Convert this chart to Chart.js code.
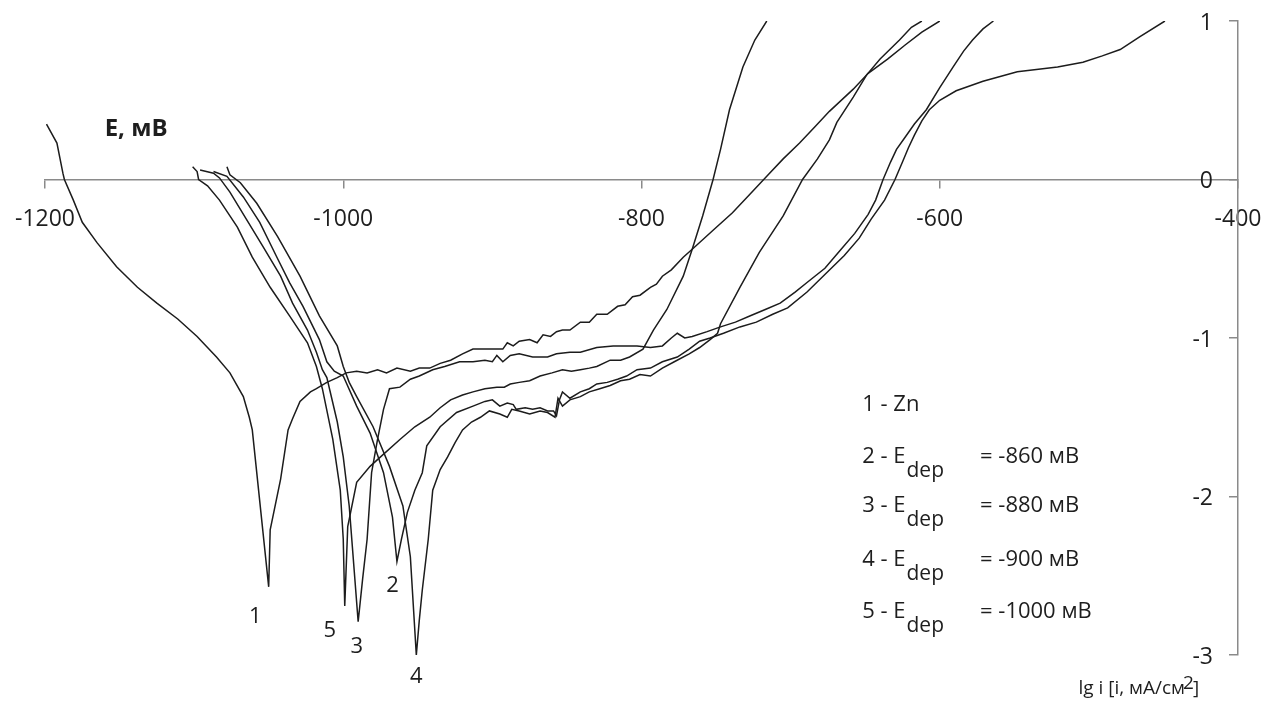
<!DOCTYPE html>
<html>
<head>
<meta charset="utf-8">
<script src="https://cdn.jsdelivr.net/npm/chart.js@4.4.1/dist/chart.umd.min.js"></script>
<style>
  html, body { margin: 0; padding: 0; background: #fff; }
  canvas { display: block; }
</style>
</head>
<body>
<canvas id="chart" width="1285" height="704"></canvas>
<script>
// potential E, mV (x) and lg i (y)
var zn_E = [-1199,-1192,-1188,-1187,-1181,-1175,-1165,-1152,-1138,-1125,-1111,-1098,-1085,-1076,-1067,-1063,-1061,-1050,
  -1049,-1042,-1037,-1034,-1029,-1022,-1018,-1011,-1004,-998,-991,-984,-977,-971,-964,-955,-949,-942,-935,
  -928,-920,-913,-902,-893,-890,-886,-882,-875,-870,-866,-861,-857,-853,-848,-841,-835,-830,-823,-816,
  -811,-806,-801,-794,-790,-786,-780,-772,-766,-752,-739,-727,-716,-705,-694,-684,-674,-658,-648,-635,
  -623,-612,-600];
var zn_lgi = [0.35,0.23,0.04,0,-0.13,-0.27,-0.40,-0.55,-0.68,-0.78,-0.88,-0.99,-1.12,-1.22,-1.37,-1.50,-1.58,-2.57,
  -2.21,-1.89,-1.58,-1.51,-1.40,-1.34,-1.32,-1.28,-1.25,-1.22,-1.21,-1.22,-1.20,-1.22,-1.19,-1.21,-1.19,-1.19,-1.16,
  -1.14,-1.10,-1.07,-1.07,-1.07,-1.03,-1.05,-1.02,-1.01,-1.03,-0.98,-0.99,-0.96,-0.95,-0.95,-0.90,-0.90,-0.85,-0.85,-0.80,
  -0.79,-0.74,-0.73,-0.68,-0.66,-0.61,-0.57,-0.49,-0.44,-0.32,-0.21,-0.09,0.02,0.13,0.23,0.33,0.43,0.57,0.67,0.76,
  0.85,0.93,1.0];

var d860_E = [-1087,-1078,-1067,-1056,-1044,-1036,-1027,-1016,-1011,-1006,-1000,-991,-982,-973,-967,-964,
  -961,-957,-952,-947,-944,-935,-924,-913,-905,-900,-895,-890,-886,-884,-878,-873,-868,-863,-859,-857,
  -855,-853,-848,-841,-835,-830,-823,-816,-810,-803,-794,-786,-776,-768,-761,-754,-745,-734,-723,-712,
  -702,-689,-676,-664,-654,-646,-637,-630,-625,-621,-617,-612,-607,-600,-589,-571,-548,-521,-504,-491,
  -479,-466,-449];
var d860_lgi = [0.05,0.02,-0.11,-0.27,-0.50,-0.65,-0.80,-1.01,-1.15,-1.21,-1.24,-1.43,-1.60,-1.85,-2.13,-2.41,
  -2.27,-2.10,-1.96,-1.85,-1.68,-1.56,-1.47,-1.43,-1.40,-1.39,-1.43,-1.41,-1.42,-1.45,-1.44,-1.45,-1.44,-1.46,-1.46,-1.49,
  -1.39,-1.34,-1.38,-1.34,-1.32,-1.29,-1.28,-1.26,-1.24,-1.20,-1.19,-1.15,-1.12,-1.07,-1.02,-1.00,-0.97,-0.93,-0.90,-0.85,
  -0.81,-0.71,-0.59,-0.48,-0.37,-0.25,-0.13,0,0.11,0.20,0.28,0.37,0.44,0.50,0.56,0.62,0.68,0.71,0.74,0.78,
  0.82,0.90,1.0];

var d880_E = [-1096,-1087,-1083,-1076,-1065,-1054,-1042,-1034,-1024,-1018,-1014,-1011,-1004,-1000,-996,-990,
  -987,-984,-981,-977,-973,-969,-962,-955,-949,-940,-932,-922,-913,-905,-900,-897,-893,-888,-882,-873,
  -863,-857,-848,-841,-830,-819,-811,-803,-794,-786,-780,-776,-771,-766,-756,-747,-737,-727,-717,-707,
  -697,-689,-677,-667,-657,-648,-643,-638,-633,-629,-623,-617,-609,-600,-591,-584,-578,-571,-564];
var d880_lgi = [0.06,0.04,0.01,-0.08,-0.25,-0.42,-0.61,-0.78,-0.95,-1.09,-1.20,-1.25,-1.53,-1.75,-2.06,-2.79,
  -2.52,-2.27,-1.85,-1.64,-1.45,-1.32,-1.31,-1.26,-1.24,-1.20,-1.18,-1.15,-1.15,-1.14,-1.15,-1.11,-1.15,-1.11,-1.10,-1.12,
  -1.12,-1.10,-1.09,-1.09,-1.06,-1.05,-1.05,-1.05,-1.06,-1.05,-1.00,-0.97,-1.00,-0.99,-0.96,-0.93,-0.90,-0.86,-0.82,-0.78,
  -0.71,-0.65,-0.56,-0.45,-0.34,-0.22,-0.13,0,0.11,0.19,0.27,0.35,0.44,0.58,0.71,0.81,0.88,0.95,1.0];

var d900_E = [-1078,-1076,-1069,-1058,-1044,-1029,-1016,-1004,-1000,-996,-991,-980,-969,-960,-955,-951,
  -949,-947,-943,-940,-935,-930,-925,-920,-914,-908,-902,-895,-890,-887,-882,-875,-868,-863,-858,-856,
  -853,-848,-841,-835,-828,-821,-814,-808,-801,-794,-786,-778,-768,-761,-754,-749,-747,-734,-721,-705,
  -692,-682,-674,-669,-658,-649,-640,-627,-619,-612];
var d900_lgi = [0.08,0.03,-0.02,-0.15,-0.36,-0.61,-0.86,-1.05,-1.18,-1.28,-1.37,-1.56,-1.81,-2.06,-2.38,-3.0,
  -2.78,-2.59,-2.27,-1.96,-1.83,-1.75,-1.66,-1.58,-1.53,-1.50,-1.46,-1.48,-1.50,-1.45,-1.46,-1.48,-1.46,-1.47,-1.50,-1.38,
  -1.43,-1.39,-1.37,-1.34,-1.32,-1.30,-1.27,-1.26,-1.23,-1.24,-1.19,-1.15,-1.10,-1.06,-1.01,-0.97,-0.91,-0.68,-0.46,-0.23,
  0,0.13,0.25,0.36,0.52,0.66,0.76,0.88,0.96,1.0];

var d1000_E = [-1101,-1098,-1097,-1091,-1083,-1071,-1061,-1049,-1036,-1024,-1018,-1014,-1007,-1002,-1000,-999,
  -997,-991,-982,-975,-962,-952,-942,-935,-928,-920,-913,-905,-897,-892,-888,-882,-875,-868,-860,-853,
  -847,-841,-835,-830,-821,-814,-808,-799,-792,-783,-772,-766,-759,-752,-747,-741,-732,-724,-716];
var d1000_lgi = [0.08,0.05,0,-0.04,-0.13,-0.30,-0.49,-0.68,-0.86,-1.03,-1.18,-1.32,-1.64,-1.96,-2.27,-2.69,
  -2.19,-1.91,-1.81,-1.75,-1.64,-1.56,-1.50,-1.44,-1.39,-1.36,-1.34,-1.32,-1.31,-1.31,-1.29,-1.28,-1.27,-1.24,-1.22,-1.20,
  -1.21,-1.20,-1.19,-1.18,-1.14,-1.14,-1.12,-1.07,-0.95,-0.82,-0.61,-0.44,-0.23,0,0.19,0.44,0.71,0.88,1.0];

var xTicks = [-1200, -1000, -800, -600, -400];
var yTicks = [-3, -2, -1, 0, 1];

var curveNames = ['1', '2', '3', '4', '5'];
var curveNamePos = [[-1059, -2.76], [-967, -2.56], [-991, -2.95], [-951, -3.14], [-1009, -2.85]];

var legendLeft = ['1 - Zn', '2 - E', '3 - E', '4 - E', '5 - E'];
var legendRight = ['', '= -860 мВ', '= -880 мВ', '= -900 мВ', '= -1000 мВ'];
var legendRowY = [-1.42, -1.75, -2.06, -2.40, -2.73];

function pts(xs, ys) {
  var out = [];
  for (var i = 0; i < xs.length; i++) out.push({x: xs[i], y: ys[i]});
  return out;
}

function line(label, xs, ys) {
  return {
    label: label,
    data: pts(xs, ys),
    showLine: true,
    borderColor: '#1c1c1c',
    borderWidth: 1.5,
    pointRadius: 0,
    tension: 0,
    fill: false
  };
}

var textColor = '#1e1e1e';
var axisColor = '#8a8a8a';
var fontFam = '"Open Sans", "Liberation Sans", sans-serif';

function noPad(s) {
  s.paddingTop = 0; s.paddingBottom = 0; s.paddingLeft = 0; s.paddingRight = 0;
}

var notesPlugin = {
  id: 'notes',
  afterDraw: function(chart) {
    var ctx = chart.ctx;
    var xs = chart.scales.x, ys = chart.scales.y;
    ctx.save();
    ctx.fillStyle = textColor;
    ctx.textBaseline = 'middle';

    // y tick labels, left of the axis line
    ctx.textAlign = 'right';
    ctx.font = '23px ' + fontFam;
    var ax = xs.getPixelForValue(-400);
    for (var k = 0; k < yTicks.length; k++) {
      ctx.fillText(String(yTicks[k]), ax - 25, ys.getPixelForValue(yTicks[k]) + 2);
    }

    // curve numbers
    ctx.textAlign = 'center';
    ctx.font = '22px ' + fontFam;
    for (var i = 0; i < curveNames.length; i++) {
      ctx.fillText(curveNames[i], xs.getPixelForValue(curveNamePos[i][0]), ys.getPixelForValue(curveNamePos[i][1]));
    }

    // legend block
    ctx.textAlign = 'left';
    var lx = xs.getPixelForValue(-652);
    var rx = xs.getPixelForValue(-573);
    for (var j = 0; j < legendLeft.length; j++) {
      var py = ys.getPixelForValue(legendRowY[j]);
      ctx.font = '22px ' + fontFam;
      ctx.fillText(legendLeft[j], lx, py);
      if (legendRight[j]) {
        var w = ctx.measureText(legendLeft[j]).width;
        ctx.font = '21px ' + fontFam;
        ctx.fillText('dep', lx + w + 1, py + 14);
        ctx.font = '22px ' + fontFam;
        ctx.fillText(legendRight[j], rx, py);
      }
    }

    // axis titles
    ctx.font = 'bold 24px ' + fontFam;
    ctx.fillText('E, мВ', xs.getPixelForValue(-1160), ys.getPixelForValue(0.32));
    ctx.font = '19px ' + fontFam;
    var tx = xs.getPixelForValue(-507), ty = ys.getPixelForValue(-3.21);
    var part = 'lg i [i, мА/см';
    ctx.fillText(part, tx, ty);
    var pw = ctx.measureText(part).width;
    ctx.fillText('2', tx + pw - 2, ty - 5);
    ctx.fillText(']', tx + pw + 8, ty);
    ctx.restore();
  }
};

new Chart(document.getElementById('chart'), {
  type: 'scatter',
  data: {
    datasets: [
      line('1 - Zn', zn_E, zn_lgi),
      line('2', d860_E, d860_lgi),
      line('3', d880_E, d880_lgi),
      line('4', d900_E, d900_lgi),
      line('5', d1000_E, d1000_lgi)
    ]
  },
  options: {
    responsive: false,
    animation: false,
    layout: { padding: { left: 45, right: 47, top: 21, bottom: 49 } },
    plugins: { legend: { display: false }, tooltip: { enabled: false } },
    scales: {
      x: {
        type: 'linear',
        min: xTicks[0],
        max: xTicks[xTicks.length - 1],
        position: { y: 0 },
        afterBuildTicks: function(s) { s.ticks = xTicks.map(function(v) { return {value: v}; }); },
        afterFit: noPad,
        ticks: {
          autoSkip: false,
          maxRotation: 0,
          padding: 18,
          color: textColor,
          font: { family: fontFam, size: 23 },
          callback: function(v) { return String(v); }
        },
        grid: { display: true, drawOnChartArea: false, drawTicks: true, tickLength: 8, color: axisColor, lineWidth: 1.5 },
        border: { display: true, color: axisColor, width: 1.5 }
      },
      y: {
        type: 'linear',
        min: yTicks[0],
        max: yTicks[yTicks.length - 1],
        position: { x: -400 },
        afterBuildTicks: function(s) { s.ticks = yTicks.map(function(v) { return {value: v}; }); },
        afterFit: noPad,
        ticks: { display: false },
        grid: { display: true, drawOnChartArea: false, drawTicks: true, tickLength: 8, color: axisColor, lineWidth: 1.5 },
        border: { display: true, color: axisColor, width: 1.5 }
      }
    }
  },
  plugins: [notesPlugin]
});
</script>
</body>
</html>
